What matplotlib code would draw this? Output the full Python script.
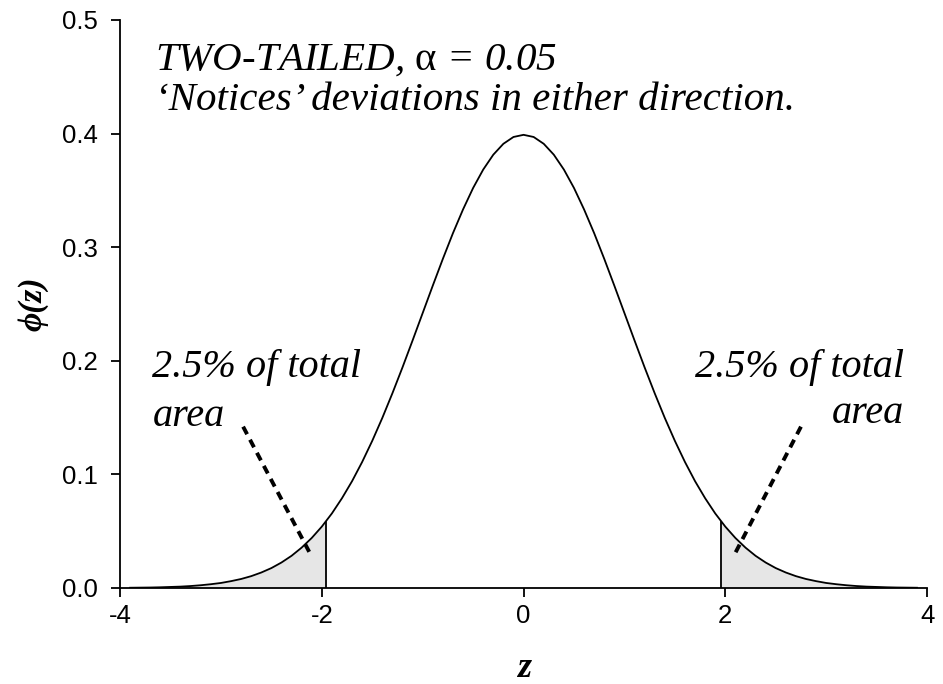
import numpy as np
import matplotlib
matplotlib.use("Agg")
import matplotlib.pyplot as plt

plt.rcParams["font.family"] = ["Liberation Sans", "DejaVu Sans"]
plt.rcParams["mathtext.fontset"] = "custom"
plt.rcParams["mathtext.rm"] = "Liberation Serif"
plt.rcParams["mathtext.it"] = "Liberation Serif:italic"

# standard normal density, z >= 0 (mirrored for z < 0)
z_half = [0.0, 0.1, 0.2, 0.3, 0.4, 0.5, 0.6, 0.7, 0.8, 0.9,
          1.0, 1.1, 1.2, 1.3, 1.4, 1.5, 1.6, 1.7, 1.8, 1.9,
          2.0, 2.1, 2.2, 2.3, 2.4, 2.5, 2.6, 2.7, 2.8, 2.9,
          3.0, 3.1, 3.2, 3.3, 3.4, 3.5, 3.6, 3.7, 3.8, 3.9]
phi_half = [0.3989, 0.3970, 0.3910, 0.3814, 0.3683, 0.3521, 0.3332, 0.3123, 0.2897, 0.2661,
            0.2420, 0.2179, 0.1942, 0.1714, 0.1497, 0.1295, 0.1109, 0.0940, 0.0790, 0.0656,
            0.0540, 0.0440, 0.0355, 0.0283, 0.0224, 0.0175, 0.0136, 0.0104, 0.0079, 0.0060,
            0.0044, 0.0033, 0.0024, 0.0017, 0.0012, 0.0009, 0.0006, 0.0004, 0.0003, 0.0002]

# critical value and density there
z_crit = 1.96
phi_crit = 0.0584

x_ticks = [-4, -2, 0, 2, 4]
y_ticks = [0.0, 0.1, 0.2, 0.3, 0.4, 0.5]
y_ticklabels = ["0.0", "0.1", "0.2", "0.3", "0.4", "0.5"]

zh = np.array(z_half)
ph = np.array(phi_half)
z = np.concatenate([-zh[:0:-1], zh])
phi = np.concatenate([ph[:0:-1], ph])

# right tail, starting at the critical value
tail = zh > z_crit
z_tail = np.concatenate([[z_crit], zh[tail]])
phi_tail = np.concatenate([[phi_crit], ph[tail]])

fig = plt.figure(figsize=(9.43, 6.84), dpi=100)
ax = fig.add_axes([0.1273, 0.1404, 0.8558, 0.8304])

ax.fill_between(z_tail, 0, phi_tail, color="#e6e6e6", lw=0)
ax.fill_between(-z_tail, 0, phi_tail, color="#e6e6e6", lw=0)
ax.plot(z, phi, color="black", lw=1.3)
ax.plot([z_crit, z_crit], [0, phi_crit], color="black", lw=1.3)
ax.plot([-z_crit, -z_crit], [0, phi_crit], color="black", lw=1.3)

# dashed pointers into the tails
ax.plot([-2.78, -2.12], [0.142, 0.031], color="black", lw=2.8, ls=(0, (2.2, 1.6)))
ax.plot([2.75, 2.10], [0.142, 0.031], color="black", lw=2.8, ls=(0, (2.2, 1.6)))

ax.set_xlim(-4, 4)
ax.set_ylim(0, 0.5)
ax.set_xticks(x_ticks)
ax.set_xticklabels([str(t) for t in x_ticks])
ax.set_yticks(y_ticks)
ax.set_yticklabels(y_ticklabels)
for s in ["top", "right"]:
    ax.spines[s].set_visible(False)
for s in ["left", "bottom"]:
    ax.spines[s].set_linewidth(1.3)
ax.tick_params(axis="both", direction="out", length=6.5, width=1.3, labelsize=18.5)
ax.tick_params(axis="y", pad=9.5)
ax.tick_params(axis="x", pad=5)

serif = dict(family=["Liberation Serif", "DejaVu Serif"], style="italic")
ax.set_xlabel("z", fontsize=26, weight="bold", labelpad=17, **serif)
ax.set_ylabel("ϕ(z)", fontsize=24, weight="bold", labelpad=10, **serif)

ax.text(-3.65, 0.456, r"TWO-TAILED, $\mathrm{\alpha}$ = 0.05", fontsize=29.5,
        va="baseline", ha="left", **serif)
ax.text(-3.65, 0.421, "‘Notices’ deviations in either direction.", fontsize=29.5,
        va="baseline", ha="left", **serif)

fs = 29
ax.text(-3.68, 0.186, "2.5% of total", fontsize=fs, va="baseline", ha="left", **serif)
ax.text(-3.68, 0.143, "area", fontsize=fs, va="baseline", ha="left", **serif)
ax.text(3.77, 0.186, "2.5% of total", fontsize=fs, va="baseline", ha="right", **serif)
ax.text(3.77, 0.145, "area", fontsize=fs, va="baseline", ha="right", **serif)

fig.savefig("out.png", dpi=100)
